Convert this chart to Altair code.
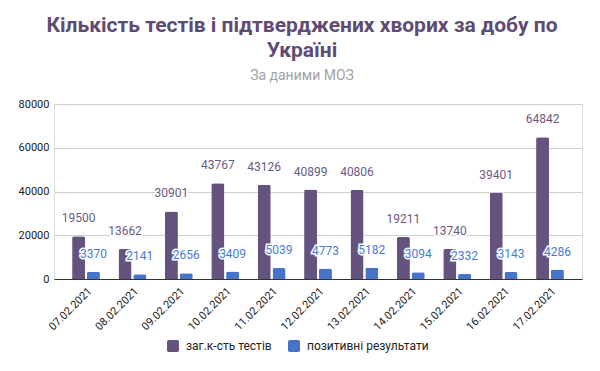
import altair as alt
import pandas as pd

dates = ["07.02.2021", "08.02.2021", "09.02.2021", "10.02.2021", "11.02.2021",
         "12.02.2021", "13.02.2021", "14.02.2021", "15.02.2021", "16.02.2021", "17.02.2021"]
tests = [19500, 13662, 30901, 43767, 43126, 40899, 40806, 19211, 13740, 39401, 64842]
positive = [3370, 2141, 2656, 3409, 5039, 4773, 5182, 3094, 2332, 3143, 4286]
series_names = ["заг.к-сть тестів", "позитивні результати"]
bar_colors = ["#65537f", "#4674c9"]
label_colors = ["#6b5a84", "#4a7bd0"]

rows = []
for d, t, p in zip(dates, tests, positive):
    rows.append({"date": d, "series": series_names[0], "value": t})
    rows.append({"date": d, "series": series_names[1], "value": p})
df = pd.DataFrame(rows)

FONT = "Roboto"

x_enc = alt.X("date:N", sort=dates, title=None,
              scale=alt.Scale(paddingInner=0.4, paddingOuter=0.39),
              axis=alt.Axis(labelAngle=-45, labelFontSize=11, labelColor="#222222",
                            labelFont=FONT, ticks=False, domainColor="#333333",
                            labelPadding=6, grid=False))
xoff = alt.XOffset("series:N", sort=series_names, scale=alt.Scale(paddingInner=0.12))
y_enc = alt.Y("value:Q", title=None,
              scale=alt.Scale(domain=[0, 80000], nice=False),
              axis=alt.Axis(values=[0, 20000, 40000, 60000, 80000], format="d",
                            labelFontSize=11, labelColor="#222222", labelFont=FONT,
                            ticks=False, domain=False, gridColor="#d0d0d0",
                            labelPadding=5))

symbol_path = ("M-0.7,-1 L0.7,-1 Q1,-1 1,-0.7 L1,0.7 Q1,1 0.7,1 L-0.7,1 "
               "Q-1,1 -1,0.7 L-1,-0.7 Q-1,-1 -0.7,-1 Z")

color_enc = alt.Color("series:N", sort=series_names, title=None,
                      scale=alt.Scale(domain=series_names, range=bar_colors),
                      legend=alt.Legend(orient="none", direction="horizontal",
                                        legendX=113, legendY=236,
                                        symbolType=symbol_path, symbolSize=144,
                                        symbolStrokeWidth=0, symbolOpacity=1,
                                        labelFontSize=12, labelFont=FONT,
                                        labelColor="#222222", labelOffset=7,
                                        columnPadding=16))

bars = alt.Chart(df).mark_bar(cornerRadiusTopLeft=2, cornerRadiusTopRight=2).encode(
    x=x_enc, xOffset=xoff, y=y_enc, color=color_enc
)

halo = alt.Chart(df).mark_text(baseline="middle", dy=-18, fontSize=12, font=FONT,
                               stroke="white", strokeWidth=3, fill="white").encode(
    x=alt.X("date:N", sort=dates), xOffset=alt.XOffset("series:N", sort=series_names),
    y="value:Q", text=alt.Text("value:Q", format="d")
)

labels = alt.Chart(df).mark_text(baseline="middle", dy=-18, fontSize=12, font=FONT).encode(
    x=alt.X("date:N", sort=dates), xOffset=alt.XOffset("series:N", sort=series_names),
    y="value:Q", text=alt.Text("value:Q", format="d"),
    fill=alt.Fill("series:N", sort=series_names,
                  scale=alt.Scale(domain=series_names, range=label_colors), legend=None)
)

chart = alt.layer(bars, halo, labels).resolve_scale(fill="independent").properties(
    width=528, height=175,
    autosize=alt.AutoSizeParams(type="none"),
    padding={"left": 46, "top": 96, "right": 10, "bottom": 84},
    title=alt.TitleParams(
        text=["Кількість тестів і підтверджених хворих за добу по", "Україні"],
        subtitle="За даними МОЗ",
        anchor="middle", dx=-16, fontSize=21, font=FONT, fontWeight="bold",
        color="#5f4c74", lineHeight=25, subtitleFont=FONT, subtitleFontSize=14,
        subtitleColor="#a3a3a3", subtitlePadding=8, offset=15)
).configure_view(stroke=None).configure(background="white")

chart.save("out.html", embed_options={"renderer": "svg", "actions": False})
